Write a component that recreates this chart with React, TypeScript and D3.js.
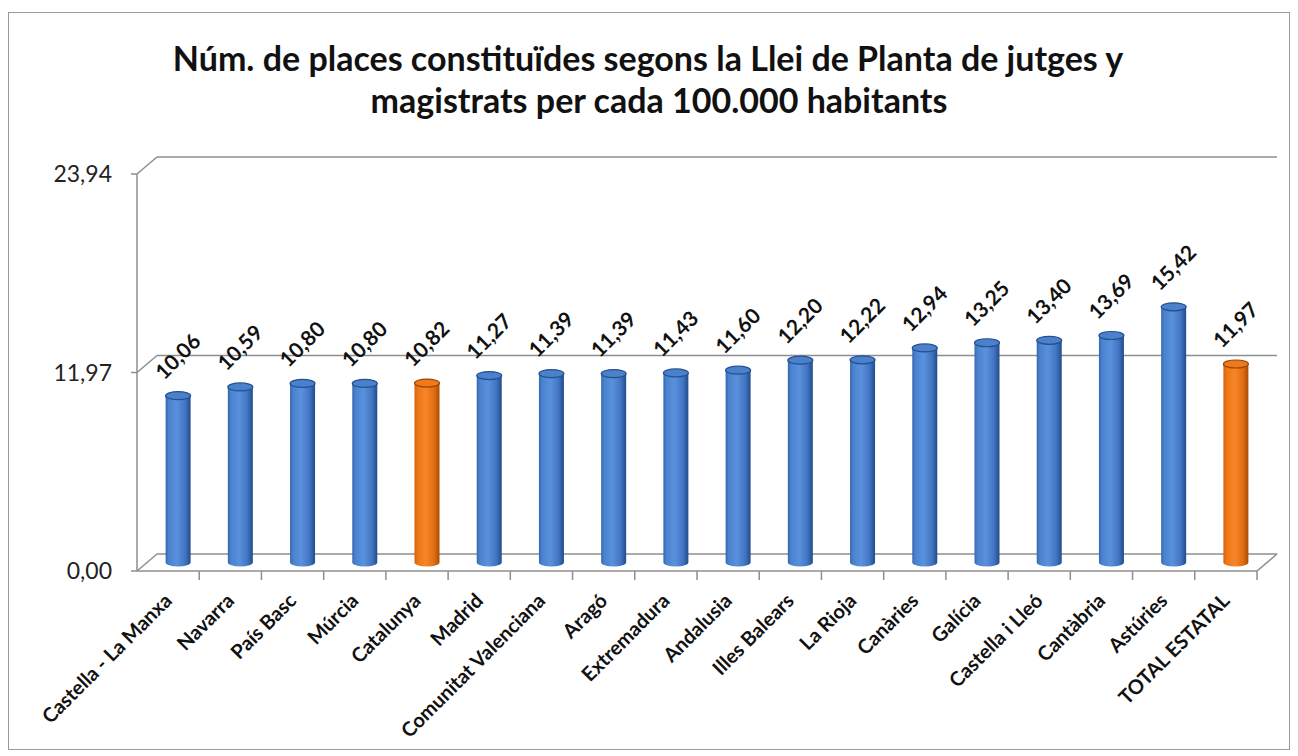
import React from "react";
import * as d3 from "d3";

const categories = [
  "Castella - La Manxa", "Navarra", "País Basc", "Múrcia", "Catalunya", "Madrid",
  "Comunitat Valenciana", "Aragó", "Extremadura", "Andalusia", "Illes Balears",
  "La Rioja", "Canàries", "Galícia", "Castella i Lleó", "Cantàbria", "Astúries",
  "TOTAL ESTATAL",
];
const values = [
  10.06, 10.59, 10.8, 10.8, 10.82, 11.27, 11.39, 11.39, 11.43, 11.6, 12.2, 12.22,
  12.94, 13.25, 13.4, 13.69, 15.42, 11.97,
];
const highlighted = ["Catalunya", "TOTAL ESTATAL"];
const yTicks = [0, 11.97, 23.94];
const titleLines = [
  "Núm. de places constituïdes segons la Llei de Planta de jutges y",
  "magistrats per cada 100.000 habitants",
];

const fmt = (v: number) => v.toFixed(2).replace(".", ",");
const FONT = "Lato, 'Open Sans', sans-serif";

export default function App() {
  const W = 1298, H = 756;
  const x0 = 137, x1 = 1257, yBase = 571, yTop = 174;
  const dx = 20, dy = -17;
  const x = d3.scaleBand<string>().domain(categories).range([x0, x1]).padding(0);
  const y = d3.scaleLinear().domain([0, 23.94]).range([yBase, yTop]);
  const bw = 25;
  const ry = 4;
  const gridColor = "#8e8e8e";

  return (
    <svg width={W} height={H} style={{ position: "absolute", left: 0, top: 0, background: "#fff" }}>
      <defs>
        <linearGradient id="gBlue" x1="0" x2="1" y1="0" y2="0">
          <stop offset="0%" stopColor="#3466ad" />
          <stop offset="12%" stopColor="#4a82cf" />
          <stop offset="45%" stopColor="#5a91dc" />
          <stop offset="78%" stopColor="#4275c2" />
          <stop offset="100%" stopColor="#224c8c" />
        </linearGradient>
        <linearGradient id="gOrange" x1="0" x2="1" y1="0" y2="0">
          <stop offset="0%" stopColor="#cf600c" />
          <stop offset="12%" stopColor="#ec7616" />
          <stop offset="45%" stopColor="#f7852a" />
          <stop offset="78%" stopColor="#e26e10" />
          <stop offset="100%" stopColor="#a64c07" />
        </linearGradient>
      </defs>
      <rect x={8.5} y={12.5} width={1281} height={737} fill="#fff" stroke="#9a9a9a" strokeWidth={1} />

      {titleLines.map((t, i) => (
        <text key={i} x={i === 0 ? 648 : 659} y={71 + i * 42} textAnchor="middle"
          fontFamily={FONT} fontWeight={700} fontSize={34} fill="#111">{t}</text>
      ))}

      {/* walls & gridlines */}
      <line x1={x0} x2={x0} y1={y(23.94)} y2={yBase} stroke={gridColor} strokeWidth={1.5} />
      {yTicks.map((v) => (
        <g key={v}>
          <line x1={x0} y1={y(v)} x2={x0 + dx} y2={y(v) + dy} stroke={gridColor} strokeWidth={1.5} />
          <line x1={x0 + dx} y1={y(v) + dy} x2={x1 + dx} y2={y(v) + dy} stroke={gridColor} strokeWidth={1.5} />
          <line x1={x0 - 6} y1={y(v)} x2={x0} y2={y(v)} stroke={gridColor} strokeWidth={1.5} />
          <text x={112} y={y(v) + 8} textAnchor="end" fontFamily={FONT} fontSize={23} fill="#222">{fmt(v)}</text>
        </g>
      ))}
      <line x1={x0} x2={x1} y1={yBase} y2={yBase} stroke={gridColor} strokeWidth={1.5} />
      <line x1={x1} y1={yBase} x2={x1 + dx} y2={yBase + dy} stroke={gridColor} strokeWidth={1.5} />
      {categories.map((c, i) => (
        <line key={"t" + i} x1={x(c)! + x.bandwidth()} x2={x(c)! + x.bandwidth()} y1={yBase} y2={yBase + 9}
          stroke={gridColor} strokeWidth={1.5} />
      ))}

      {/* bars */}
      {categories.map((c, i) => {
        const cx = x(c)! + x.bandwidth() / 2 + dx / 2;
        const top = y(values[i]) + dy / 2;
        const bottom = y(0) + dy / 2;
        const hl = highlighted.includes(c);
        const fill = hl ? "url(#gOrange)" : "url(#gBlue)";
        const topFill = hl ? "#ee7a1c" : "#4b80cb";
        const stroke = hl ? "#9c4606" : "#23508f";
        return (
          <g key={c}>
            <path
              d={`M${cx - bw / 2},${top} L${cx - bw / 2},${bottom} A${bw / 2},${ry} 0 0 0 ${cx + bw / 2},${bottom} L${cx + bw / 2},${top} Z`}
              fill={fill} />
            <ellipse cx={cx} cy={top} rx={bw / 2} ry={ry} fill={topFill} stroke={stroke} strokeWidth={1.2} />
            <text transform={`translate(${cx - 1},${top - 40}) rotate(-45)`} textAnchor="middle"
              dominantBaseline="central" fontFamily={FONT} fontWeight={700} fontSize={21} fill="#111">
              {fmt(values[i])}
            </text>
          </g>
        );
      })}

      {/* category labels */}
      {categories.map((c) => (
        <text key={"l" + c} transform={`translate(${x(c)! + x.bandwidth() / 2 + 5},${602}) rotate(-45)`}
          textAnchor="end" fontFamily={FONT} fontWeight={700} fontSize={20} fill="#111">{c}</text>
      ))}
    </svg>
  );
}
